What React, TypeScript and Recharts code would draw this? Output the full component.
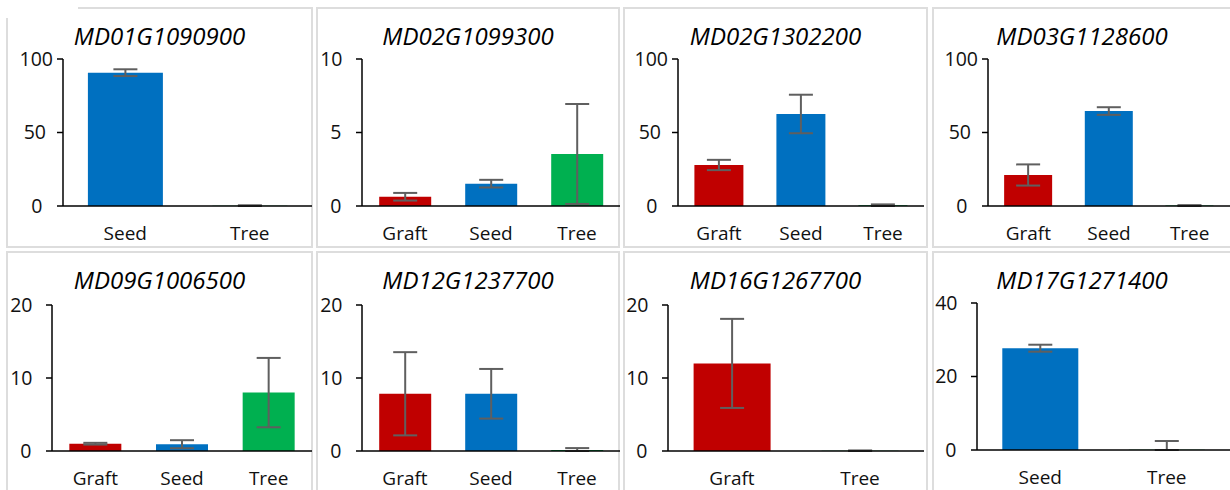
import { BarChart, Bar, XAxis, YAxis, Cell, ErrorBar } from "recharts";

// gene panels, in reading order
const GENES = [
  "MD01G1090900",
  "MD02G1099300",
  "MD02G1302200",
  "MD03G1128600",
  "MD09G1006500",
  "MD12G1237700",
  "MD16G1267700",
  "MD17G1271400",
];

const CATEGORIES = [
  ["Seed", "Tree"],
  ["Graft", "Seed", "Tree"],
  ["Graft", "Seed", "Tree"],
  ["Graft", "Seed", "Tree"],
  ["Graft", "Seed", "Tree"],
  ["Graft", "Seed", "Tree"],
  ["Graft", "Tree"],
  ["Seed", "Tree"],
];

const MEANS = [
  [90.7, 0.2],
  [0.63, 1.52, 3.54],
  [27.9, 62.6, 0.5],
  [21.1, 64.6, 0.3],
  [1.0, 0.93, 8.0],
  [7.84, 7.84, 0.15],
  [12.0, 0.03],
  [27.7, 0.05],
];

const ERRORS = [
  [2.3, 0.3],
  [0.26, 0.26, 3.4],
  [3.5, 13.1, 0.6],
  [7.2, 2.6, 0.3],
  [0.12, 0.55, 4.75],
  [5.7, 3.4, 0.25],
  [6.1, 0.05],
  [0.95, 2.4],
];

const Y_TICKS = [
  [0, 50, 100],
  [0, 5, 10],
  [0, 50, 100],
  [0, 50, 100],
  [0, 10, 20],
  [0, 10, 20],
  [0, 10, 20],
  [0, 20, 40],
];

const COLORS: Record<string, string> = {
  Graft: "#C00000",
  Seed: "#0070C0",
  Tree: "#00B050",
};

const FONT = "'Open Sans', sans-serif";

// panel boxes and plot areas in page pixels
const LAYOUT = [
  { left: 6, top: 7, w: 307, axisX: 63, right: 312, plotTop: 59, plotBottom: 206 },
  { left: 316, top: 7, w: 304, axisX: 362, right: 620, plotTop: 59, plotBottom: 206 },
  { left: 623, top: 7, w: 305, axisX: 678, right: 924, plotTop: 59, plotBottom: 206 },
  { left: 932, top: 7, w: 300, axisX: 988, right: 1230, plotTop: 59, plotBottom: 206 },
  { left: 6, top: 251, w: 307, axisX: 52, right: 312, plotTop: 305, plotBottom: 451 },
  { left: 316, top: 251, w: 304, axisX: 362, right: 620, plotTop: 305, plotBottom: 451 },
  { left: 623, top: 251, w: 305, axisX: 668, right: 924, plotTop: 305, plotBottom: 451 },
  { left: 932, top: 251, w: 300, axisX: 977, right: 1230, plotTop: 303, plotBottom: 450 },
];

const Y_AXIS_W = 60;
const MARGIN_TOP = 16;

// distance of a label's right edge from the axis, the way the source laid them out
function labelGap(label: string, maxLen: number) {
  if (label.length >= 3) return 10;
  if (label.length === 2) return maxLen >= 3 ? 17 : 19.5;
  return 20.5;
}

function Panel({ idx }: { idx: number }) {
  const L = LAYOUT[idx];
  const data = CATEGORIES[idx].map((c, j) => {
    const e = ERRORS[idx][j];
    const v = MEANS[idx][j];
    // lower whisker stops at the axis, as in the source chart
    return { cat: c, value: v, err: [Math.min(e, v), e] };
  });
  const ticks = Y_TICKS[idx];
  const maxLen = String(ticks[ticks.length - 1]).length;
  const chartLeft = L.axisX - Y_AXIS_W;
  const chartTop = L.plotTop - MARGIN_TOP;
  const width = L.right - chartLeft;
  const height = L.plotBottom - chartTop + 45;

  const renderYTick = (props: any) => {
    const label = String(props.payload.value);
    const x = Y_AXIS_W - labelGap(label, maxLen);
    return (
      <text
        x={x}
        y={props.y}
        dy="0.355em"
        textAnchor="end"
        fontFamily={FONT}
        fontSize={19.5}
        fill="#111"
      >
        {label}
      </text>
    );
  };

  return (
    <>
      <div
        style={{
          position: "absolute",
          left: L.left,
          top: L.top,
          width: L.w,
          height: 241,
          border: "2px solid #dddddd",
          boxSizing: "border-box",
        }}
      />
      <svg
        style={{ position: "absolute", left: L.left, top: L.top, overflow: "visible" }}
        width={L.w}
        height={48}
      >
        <text
          x={L.w / 2}
          y={38}
          textAnchor="middle"
          fontFamily={FONT}
          fontStyle="italic"
          fontSize={24}
          fill="#000"
        >
          {GENES[idx]}
        </text>
      </svg>
      <div style={{ position: "absolute", left: chartLeft, top: chartTop }}>
        <BarChart
          width={width}
          height={height}
          data={data}
          margin={{ top: MARGIN_TOP, right: 0, bottom: 0, left: 0 }}
          barCategoryGap="20%"
        >
          <XAxis
            dataKey="cat"
            tickLine={false}
            axisLine={{ stroke: "#000", strokeWidth: 1.5 }}
            tickMargin={15}
            height={45}
            interval={0}
            tick={{ fill: "#111", fontSize: 19, fontFamily: FONT }}
          />
          <YAxis
            width={Y_AXIS_W}
            domain={[0, ticks[ticks.length - 1]]}
            allowDataOverflow
            ticks={ticks}
            interval={0}
            tickSize={6}
            tickMargin={4}
            axisLine={{ stroke: "#000", strokeWidth: 1.5 }}
            tickLine={{ stroke: "#000", strokeWidth: 1.5 }}
            tick={renderYTick}
          />
          <Bar dataKey="value" isAnimationActive={false}>
            {data.map((d) => (
              <Cell key={d.cat} fill={COLORS[d.cat]} />
            ))}
            <ErrorBar
              dataKey="err"
              direction="y"
              width={12}
              stroke="#5f5f5f"
              strokeWidth={2}
            />
          </Bar>
        </BarChart>
      </div>
    </>
  );
}

export default function App() {
  return (
    <div
      style={{
        position: "absolute",
        left: 0,
        top: 0,
        width: 1230,
        height: 490,
        overflow: "hidden",
        background: "#fff",
      }}
    >
      {GENES.map((g, i) => (
        <Panel key={g} idx={i} />
      ))}
      {/* the original crop leaves the top-left corner blank */}
      <div
        style={{
          position: "absolute",
          left: 0,
          top: 0,
          width: 78,
          height: 18,
          background: "#fff",
        }}
      />
    </div>
  );
}
